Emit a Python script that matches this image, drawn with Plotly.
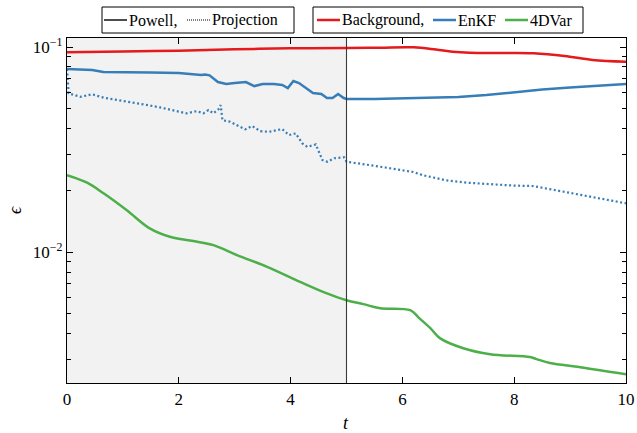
import plotly.graph_objects as go

# --- Background run -------------------------------------------------------
t_bg = [0, 1, 2, 3, 4, 5, 5.6, 6.2, 6.6, 6.9, 7.2, 7.8, 8.35, 8.9, 9.4, 10]
eps_bg = [0.0942, 0.0950, 0.0960, 0.0975, 0.0985, 0.0989, 0.0993, 0.0997,
          0.0972, 0.0949, 0.0938, 0.0935, 0.0932, 0.0904, 0.0865, 0.0848]

# --- EnKF, Powell optimiser (solid) ---------------------------------------
t_enkf_pw = [0, 0.45, 0.65, 1.0, 1.5, 2.0, 2.4, 2.47, 2.55, 2.7, 2.85, 3.0,
             3.2, 3.35, 3.5, 3.7, 3.85, 3.95, 4.05, 4.15, 4.3, 4.4, 4.55,
             4.65, 4.75, 4.85, 4.95, 5.0, 5.5, 6.0, 6.5, 7.0, 7.5, 8.0,
             8.5, 9.0, 9.5, 10]
eps_enkf_pw = [0.0781, 0.0772, 0.0755, 0.0755, 0.0751, 0.0747, 0.0730,
               0.0735, 0.0728, 0.0675, 0.0660, 0.0667, 0.0675, 0.0645,
               0.0660, 0.0660, 0.0653, 0.0631, 0.0683, 0.0667, 0.0624,
               0.0597, 0.0590, 0.0564, 0.0564, 0.0590, 0.0564, 0.0558,
               0.0558, 0.0561, 0.0564, 0.0570, 0.0583, 0.0603, 0.0620,
               0.0634, 0.0649, 0.0660]

# --- EnKF, projection method (dotted) -------------------------------------
t_enkf_pr = [0, 0.03, 0.24, 0.45, 0.66, 0.83, 1.07, 1.37, 1.66, 1.9, 2.14,
             2.32, 2.44, 2.53, 2.62, 2.71, 2.75, 2.78, 2.92, 3.1, 3.19, 3.31,
             3.46, 3.61, 3.85, 3.97, 4.09, 4.21, 4.3, 4.45, 4.57, 4.66, 4.78,
             4.96, 5.0, 5.6, 6.19, 6.37, 6.78, 7.16, 7.99, 8.34, 8.88, 9.47,
             10]
eps_enkf_pr = [0.0781, 0.0594, 0.0572, 0.0588, 0.0566, 0.0556, 0.0545,
               0.0525, 0.0508, 0.0493, 0.0475, 0.0487, 0.0475, 0.0493,
               0.0475, 0.0497, 0.0521, 0.0440, 0.0432, 0.0408, 0.0397,
               0.0412, 0.0389, 0.0386, 0.0398, 0.0372, 0.0379, 0.0339,
               0.0326, 0.0335, 0.0281, 0.0276, 0.0287, 0.0290, 0.0276,
               0.0261, 0.0246, 0.0237, 0.0224, 0.0218, 0.0211, 0.0210,
               0.0197, 0.0184, 0.0173]

# --- 4DVar ----------------------------------------------------------------
t_4dvar = [0, 0.36, 0.66, 1.07, 1.48, 1.84, 2.26, 2.62, 3.04, 3.58, 4.17,
           4.65, 5.0, 5.3, 5.6, 6.14, 6.3, 6.5, 6.67, 7.09, 7.57, 8.28, 8.4,
           8.64, 9.18, 10]
eps_4dvar = [0.02374, 0.0218, 0.0193, 0.0160, 0.01305, 0.01188, 0.01132,
             0.01082, 0.00967, 0.00848, 0.00716, 0.00629, 0.00583, 0.00558,
             0.00533, 0.00521, 0.00477, 0.00426, 0.00381, 0.00340, 0.00318,
             0.00308, 0.00301, 0.00288, 0.00275, 0.00254]

y_major = [0.01, 0.1]
y_major_text = ["10<sup>−2</sup>", "10<sup>−1</sup>"]
y_minor = [m * 10.0 ** e for e in (-3, -2) for m in range(2, 10)]
x_ticks = [0, 2, 4, 6, 8, 10]

# legend keys: (label, colour, dash)
key_method = [("Powell,", "black", "solid"), ("Projection", "black", "dot")]
key_scheme = [("Background,", "#e41a1c", "solid"), ("EnKF", "#377eb8", "solid"),
              ("4DVar", "#4daf4a", "solid")]

RED, BLUE, GREEN = "#e41a1c", "#377eb8", "#4daf4a"
FONT = "Liberation Serif, serif"
W, H = 637, 433
ML, MR, MT, MB = 67, 11, 38, 50
PW, PH = W - ML - MR, H - MT - MB


def px_to_paper(px, py):
    return (px - ML) / PW, (H - MB - py) / PH


fig = go.Figure()

fig.add_trace(go.Scatter(x=t_bg, y=eps_bg, mode="lines", showlegend=False,
                         line=dict(color=RED, width=2.5, shape="spline",
                                   smoothing=1.0)))
fig.add_trace(go.Scatter(x=t_enkf_pw, y=eps_enkf_pw, mode="lines",
                         showlegend=False, line=dict(color=BLUE, width=2.5)))
fig.add_trace(go.Scatter(x=t_enkf_pr, y=eps_enkf_pr, mode="lines",
                         showlegend=False,
                         line=dict(color=BLUE, width=2.2, dash="2px,2.5px")))
fig.add_trace(go.Scatter(x=t_4dvar, y=eps_4dvar, mode="lines",
                         showlegend=False,
                         line=dict(color=GREEN, width=2.5, shape="spline",
                                   smoothing=1.0)))

# assimilation window
fig.add_shape(type="rect", x0=0, x1=5, y0=0, y1=1, yref="paper",
              fillcolor="#f2f2f2", line=dict(width=0), layer="below")
fig.add_shape(type="line", x0=5, x1=5, y0=0, y1=1, yref="paper",
              line=dict(color="#3a3a3a", width=1.1), layer="above")


def draw_key(entries, box_px, sample_starts):
    """Framed key above the axes: line sample followed by its label."""
    x0, y0, x1, y1 = box_px
    a, b = px_to_paper(x0, y1)
    c, d = px_to_paper(x1, y0)
    fig.add_shape(type="rect", xref="paper", yref="paper", x0=a, y0=b,
                  x1=c, y1=d, line=dict(color="black", width=1),
                  fillcolor="white")
    ymid = (y0 + y1) / 2
    for (label, colour, dash), sx in zip(entries, sample_starts):
        lx0, ly = px_to_paper(sx, ymid)
        lx1, _ = px_to_paper(sx + 23, ymid)
        width = 2.5 if colour != "black" else (1.4 if dash == "solid" else 1.0)
        fig.add_shape(type="line", xref="paper", yref="paper", x0=lx0,
                      x1=lx1, y0=ly, y1=ly,
                      line=dict(color=colour, width=width,
                                dash="1px,1px" if dash == "dot" else "solid"))
        tx, ty = px_to_paper(sx + 24, ymid)
        fig.add_annotation(xref="paper", yref="paper", x=tx, y=ty,
                           text=label, showarrow=False, xanchor="left",
                           yanchor="middle", borderpad=0,
                           font=dict(family=FONT, size=16, color="black"))


draw_key(key_method, (102, 7, 294, 33), [104, 187])
draw_key(key_scheme, (313, 7, 583, 33), [317, 433, 505])

# axis titles
tx, ty = px_to_paper(346, 423)
fig.add_annotation(xref="paper", yref="paper", x=tx, y=ty, text="<i>t</i>",
                   showarrow=False, xanchor="center", yanchor="middle",
                   font=dict(family=FONT, size=18, color="black"))
ex, ey = px_to_paper(15, 210)
fig.add_annotation(xref="paper", yref="paper", x=ex, y=ey, text="<i>ϵ</i>",
                   showarrow=False, xanchor="center", yanchor="middle",
                   textangle=-90,
                   font=dict(family=FONT, size=18, color="black"))

fig.update_layout(
    width=W, height=H,
    margin=dict(l=ML, r=MR, t=MT, b=MB, autoexpand=False),
    paper_bgcolor="white", plot_bgcolor="white",
    font=dict(family=FONT, size=17, color="black"),
    showlegend=False,
    xaxis=dict(range=[0, 10], tickvals=x_ticks, ticks="inside", ticklen=6,
               tickwidth=1, tickcolor="black", showline=True,
               linecolor="black", linewidth=1.3, mirror="allticks",
               showgrid=False, zeroline=False, automargin=False,
               tickfont=dict(family=FONT, size=17)),
    yaxis=dict(type="log", range=[-2.638, -0.956], tickmode="array",
               tickvals=y_major, ticktext=y_major_text, ticks="inside",
               ticklen=6, tickwidth=1, tickcolor="black", showline=True,
               linecolor="black", linewidth=1.3, mirror="allticks",
               showgrid=False, zeroline=False, automargin=False,
               tickfont=dict(family=FONT, size=17),
               minor=dict(tickmode="array", tickvals=y_minor,
                          ticks="inside", ticklen=4, tickwidth=1,
                          tickcolor="black", showgrid=False)),
)

fig.write_html("out.html")
